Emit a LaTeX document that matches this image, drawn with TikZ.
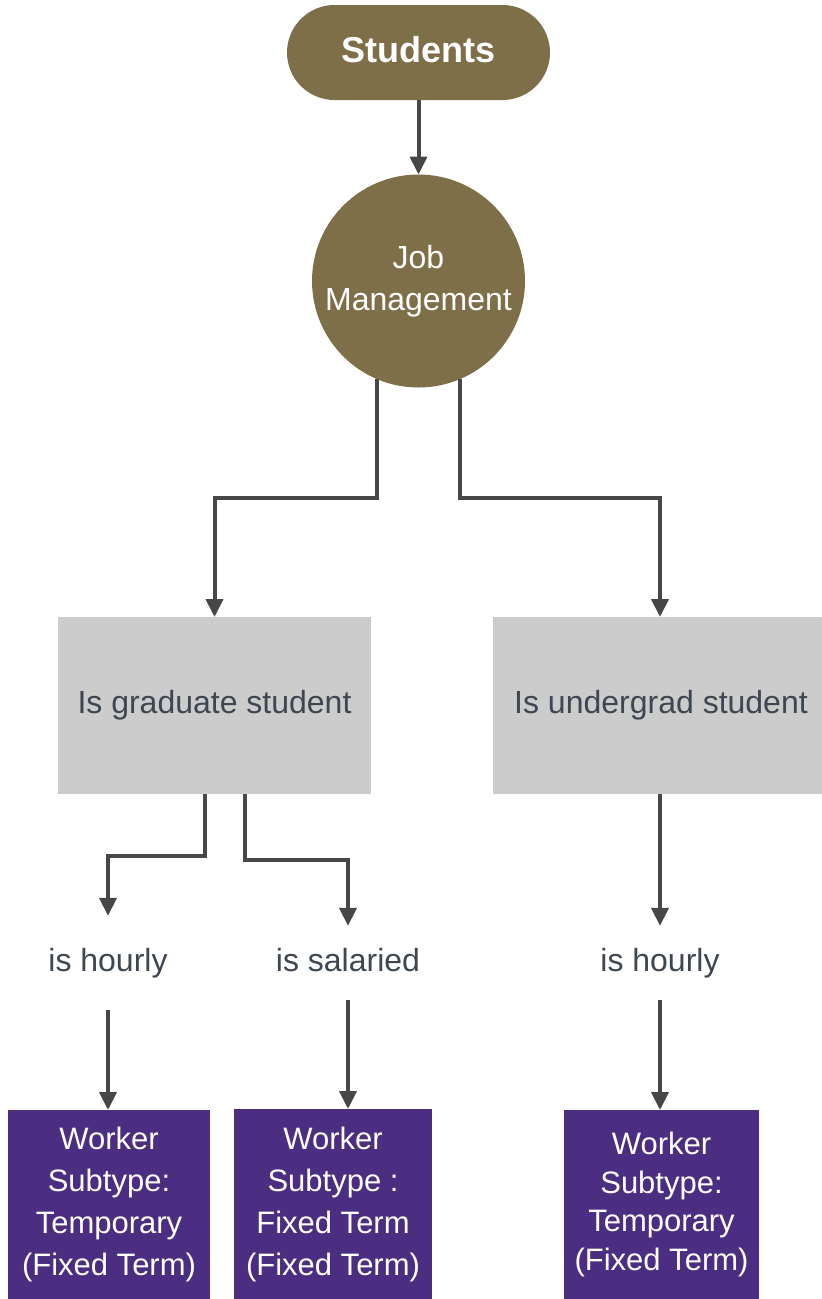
\documentclass[tikz,border=0pt]{standalone}
\usepackage{fontspec}
\setmainfont{Liberation Sans}
\usetikzlibrary{arrows.meta}

\definecolor{jobbrown}{HTML}{7F6F48}
\definecolor{subpurple}{HTML}{4B2D82}
\definecolor{boxgray}{HTML}{CCCCCC}
\definecolor{linegray}{HTML}{474747}
\definecolor{textgray}{HTML}{3E4651}

\tikzset{
    arr/.style={-{Triangle[length=18pt,width=17pt]},line width=4pt,linegray},
    checkbox/.style={fill=boxgray,text=textgray,inner sep=0pt,outer sep=0pt,
        font=\fontsize{32}{40}\selectfont},
    paylabel/.style={text=textgray,inner xsep=0pt,inner ysep=22pt,
        text height=23pt,text depth=7pt,font=\fontsize{32}{40}\selectfont},
    subbox/.style={fill=subpurple,text=white,inner sep=0pt,outer sep=0pt,align=center}
}

\begin{document}
\begin{tikzpicture}[x=1pt,y=-1pt]
        \useasboundingbox (0,0) rectangle (822,1299);

        %top
        \node[fill=jobbrown,text=white,rounded corners=47.5pt,minimum width=263pt,
            minimum height=95pt,inner sep=0pt,outer sep=0pt,text depth=7pt,
            font=\fontsize{36}{43}\selectfont\bfseries] (students) at (418.5,52.5) {Students};
        \node[circle,fill=jobbrown,text=white,minimum size=213pt,inner sep=0pt,outer sep=0pt,
            align=center,font=\fontsize{32}{42}\selectfont] (job) at (418.5,281) {Job\\Management};
        \draw[arr] (students) -- (job);

        %student type
        \node[checkbox,minimum width=313pt,minimum height=177pt] (grad) at (214.5,705.5) {Is graduate student};
        \node[checkbox,minimum width=329pt,minimum height=177pt] (under) at (657.5,705.5) {\hspace*{7pt}Is undergrad student};
        \coordinate (splitA) at (0,498);
        \draw[arr] (job.247) -- (job.247 |- splitA) -| (grad.north);
        \draw[arr] (job.293) -- (job.293 |- splitA) -| ([xshift=2.5pt]under.north);

        %pay type
        \node[paylabel] (hourlyA) at (108,963) {is hourly};
        \node[paylabel] (salaried) at (348,963) {is salaried};
        \node[paylabel] (hourlyB) at (660,963) {is hourly};
        \coordinate (splitB) at (0,856);
        \coordinate (splitC) at (0,860);
        \draw[arr,shorten >=10pt] ([xshift=-9.5pt]grad.south) -- ([xshift=-9.5pt]grad.south |- splitB) -| (hourlyA.north);
        \draw[arr] ([xshift=30.5pt]grad.south) -- ([xshift=30.5pt]grad.south |- splitC) -| (salaried.north);
        \draw[arr] ([xshift=2.5pt]under.south) -- (hourlyB.north);

        %worker subtype
        \node[subbox,minimum width=202pt,minimum height=189pt,font=\fontsize{31}{42}\selectfont]
            (tempA) at (109,1204.5) {Worker\\Subtype:\\Temporary\\(Fixed Term)};
        \node[subbox,minimum width=198pt,minimum height=190pt,font=\fontsize{31}{42}\selectfont]
            (fixed) at (333,1204) {Worker\\Subtype :\\Fixed Term\\(Fixed Term)};
        \node[subbox,minimum width=195pt,minimum height=189pt,font=\fontsize{31}{38.5}\selectfont]
            (tempB) at (661.5,1204.5) {Worker\\Subtype:\\Temporary\\(Fixed Term)};
        \draw[arr,shorten <=10pt] (hourlyA.south) -- (tempA.north -| hourlyA.south);
        \draw[arr] (salaried.south) -- (fixed.north -| salaried.south);
        \draw[arr] (hourlyB.south) -- (tempB.north -| hourlyB.south);
    \end{tikzpicture}
\end{document}
